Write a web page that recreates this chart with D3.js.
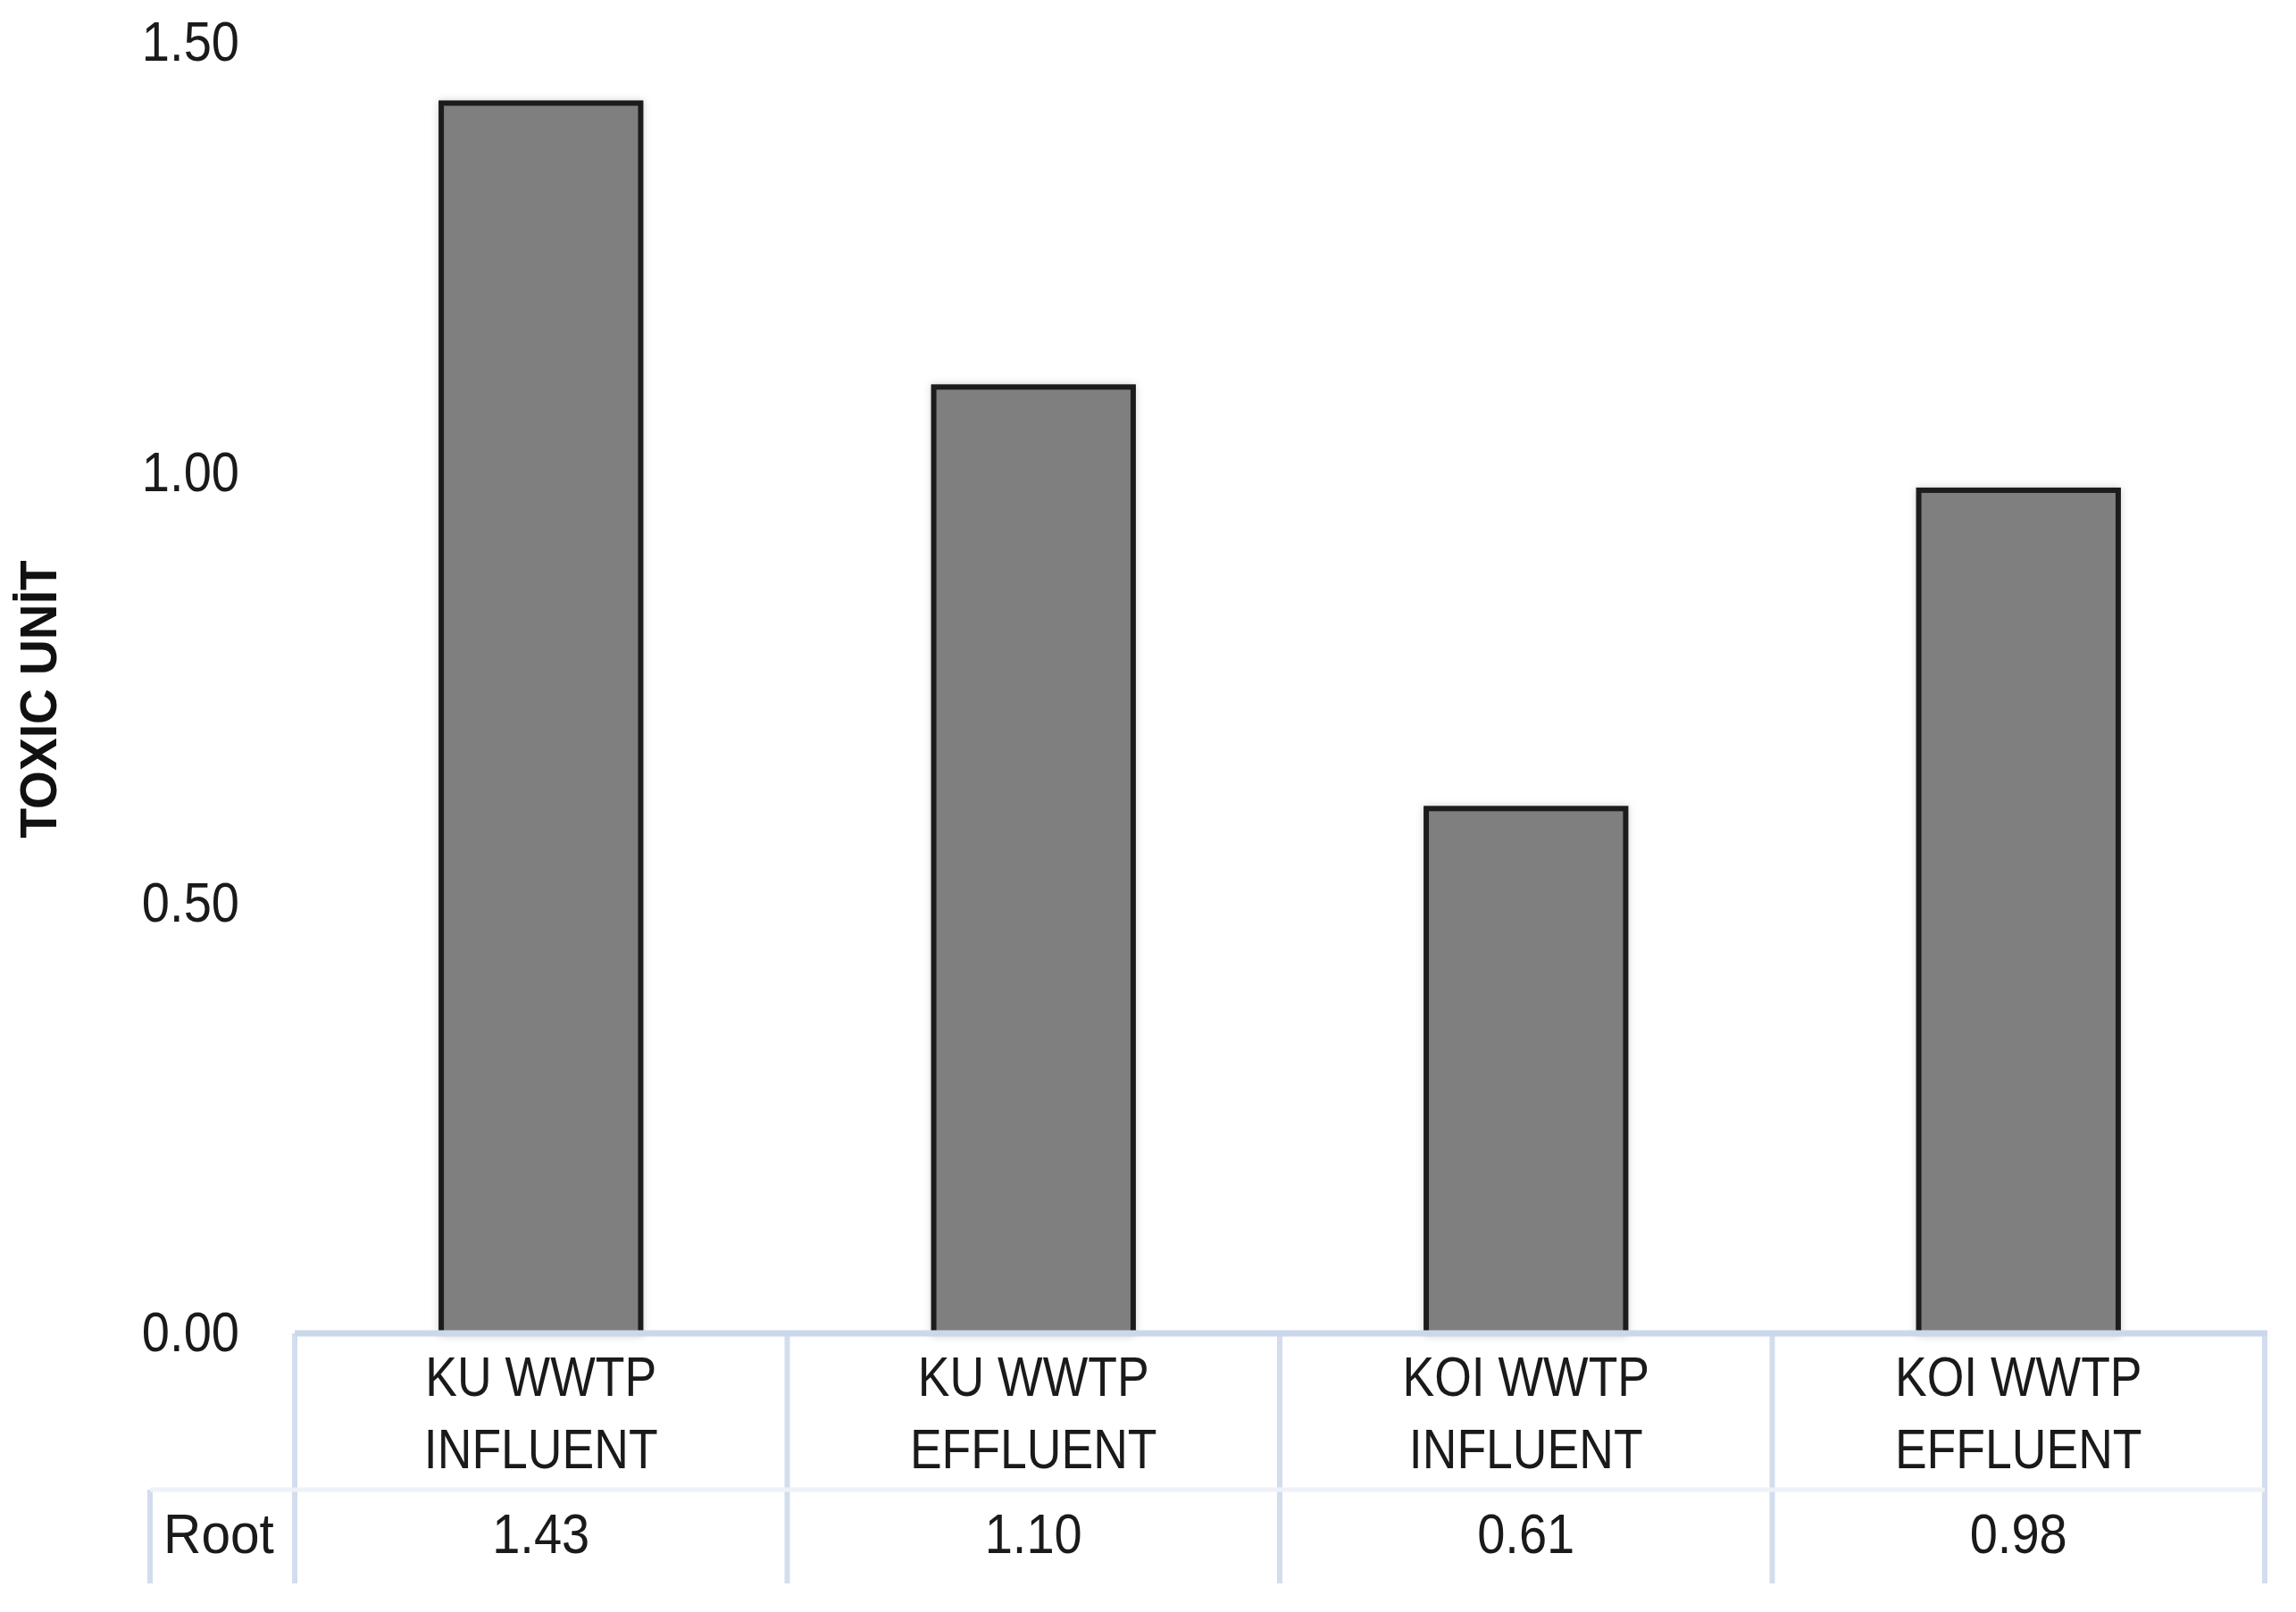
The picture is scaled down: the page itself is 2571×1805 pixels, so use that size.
<!DOCTYPE html>
<html><head><meta charset="utf-8">
<script src="https://cdn.jsdelivr.net/npm/d3@7"></script>
<style>html,body{margin:0;padding:0;background:#fff;} svg{display:block;}</style>
</head><body>
<script>
const categories = ["KU WWTP\nINFLUENT", "KU WWTP\nEFFLUENT", "KOI WWTP\nINFLUENT", "KOI WWTP\nEFFLUENT"];
const seriesName = "Root";
const values = [1.43, 1.10, 0.61, 0.98];
const yTicks = [0, 0.5, 1.0, 1.5];
const yTitle = "TOXIC UNİT";

const W = 2571, H = 1805;
const FONT = "'Liberation Sans', Arial, sans-serif";
const TEXT = "#1a1a1a";
const svg = d3.select("body").append("svg").attr("width", W).attr("height", H);

const x = d3.scaleBand().domain(categories).range([330, 2536]).padding(0);
const y = d3.scaleLinear().domain([0, 1.5]).range([1493, 48]);
const barFrac = 0.405;

function squeeze(sel, f) {
  sel.each(function () {
    const L = this.getComputedTextLength();
    d3.select(this).attr("textLength", L * f).attr("lengthAdjust", "spacingAndGlyphs");
  });
}

const defs = svg.append("defs");
defs.append("filter").attr("id", "sh").attr("x", "-10%").attr("y", "-10%").attr("width", "120%").attr("height", "120%")
  .append("feDropShadow").attr("dx", 0).attr("dy", 0).attr("stdDeviation", 4)
  .attr("flood-color", "#000").attr("flood-opacity", 0.18);

// bars
const data = categories.map((c, i) => ({ c, v: values[i] }));
svg.append("g").selectAll("rect").data(data).join("rect")
  .attr("x", d => x(d.c) + x.bandwidth() * (1 - barFrac) / 2)
  .attr("width", x.bandwidth() * barFrac)
  .attr("y", d => y(d.v))
  .attr("height", d => y(0) - y(d.v))
  .attr("fill", "#7f7f7f")
  .attr("stroke", "#1e1e1e")
  .attr("stroke-width", 6)
  .attr("filter", "url(#sh)");

// y axis
const yAxis = svg.append("g").attr("transform", "translate(268,-3)")
  .call(d3.axisLeft(y).tickValues(yTicks).tickFormat(d3.format(".2f")).tickSize(0).tickPadding(0));
yAxis.select(".domain").remove();
yAxis.selectAll("text").attr("font-family", FONT).attr("font-size", 63).attr("fill", TEXT).attr("dy", "0.36em");
squeeze(yAxis.selectAll("text"), 0.89);

// y title
const yt = svg.append("text").attr("transform", "translate(42,783) rotate(-90)")
  .attr("text-anchor", "middle").attr("dominant-baseline", "central")
  .attr("font-family", FONT).attr("font-weight", "bold").attr("font-size", 58).attr("fill", "#111")
  .text(yTitle);
squeeze(yt, 0.95);

// data table
const rowTop = y(0), rowMid = 1668, rowBot = 1773, rootLeft = 168;
const tbl = svg.append("g");
const edges = categories.map(c => x(c)).concat([x(categories[categories.length - 1]) + x.bandwidth()]);
tbl.selectAll("line.v").data(edges).join("line").attr("class", "v")
  .attr("x1", d => d).attr("x2", d => d).attr("y1", rowTop).attr("y2", rowBot)
  .attr("stroke", "#d2ddee").attr("stroke-width", 6);
tbl.append("line").attr("x1", rootLeft).attr("x2", rootLeft).attr("y1", rowMid).attr("y2", rowBot)
  .attr("stroke", "#d2ddee").attr("stroke-width", 6);
tbl.append("line").attr("x1", rootLeft).attr("x2", edges[edges.length - 1]).attr("y1", rowMid).attr("y2", rowMid)
  .attr("stroke", "#eef2f8").attr("stroke-width", 5);
tbl.append("line").attr("x1", edges[0]).attr("x2", edges[edges.length - 1] + 3).attr("y1", rowTop).attr("y2", rowTop)
  .attr("stroke", "#cbd8ec").attr("stroke-width", 7);

// category labels
const lineY = [1541, 1622];
categories.forEach(c => {
  c.split("\n").forEach((ln, j) => {
    const t = tbl.append("text").attr("x", x(c) + x.bandwidth() / 2).attr("y", lineY[j])
      .attr("text-anchor", "middle").attr("dominant-baseline", "central")
      .attr("font-family", FONT).attr("font-size", 63).attr("fill", TEXT).text(ln);
    squeeze(t, 0.85);
  });
});
// values row
data.forEach(d => {
  const t = tbl.append("text").attr("x", x(d.c) + x.bandwidth() / 2).attr("y", 1717)
    .attr("text-anchor", "middle").attr("dominant-baseline", "central")
    .attr("font-family", FONT).attr("font-size", 63).attr("fill", TEXT).text(d3.format(".2f")(d.v));
  squeeze(t, 0.89);
});
const rt = tbl.append("text").attr("x", (rootLeft + edges[0]) / 2 - 4).attr("y", 1717)
  .attr("text-anchor", "middle").attr("dominant-baseline", "central")
  .attr("font-family", FONT).attr("font-size", 63).attr("fill", TEXT).text(seriesName);
squeeze(rt, 0.93);
</script>
</body></html>
